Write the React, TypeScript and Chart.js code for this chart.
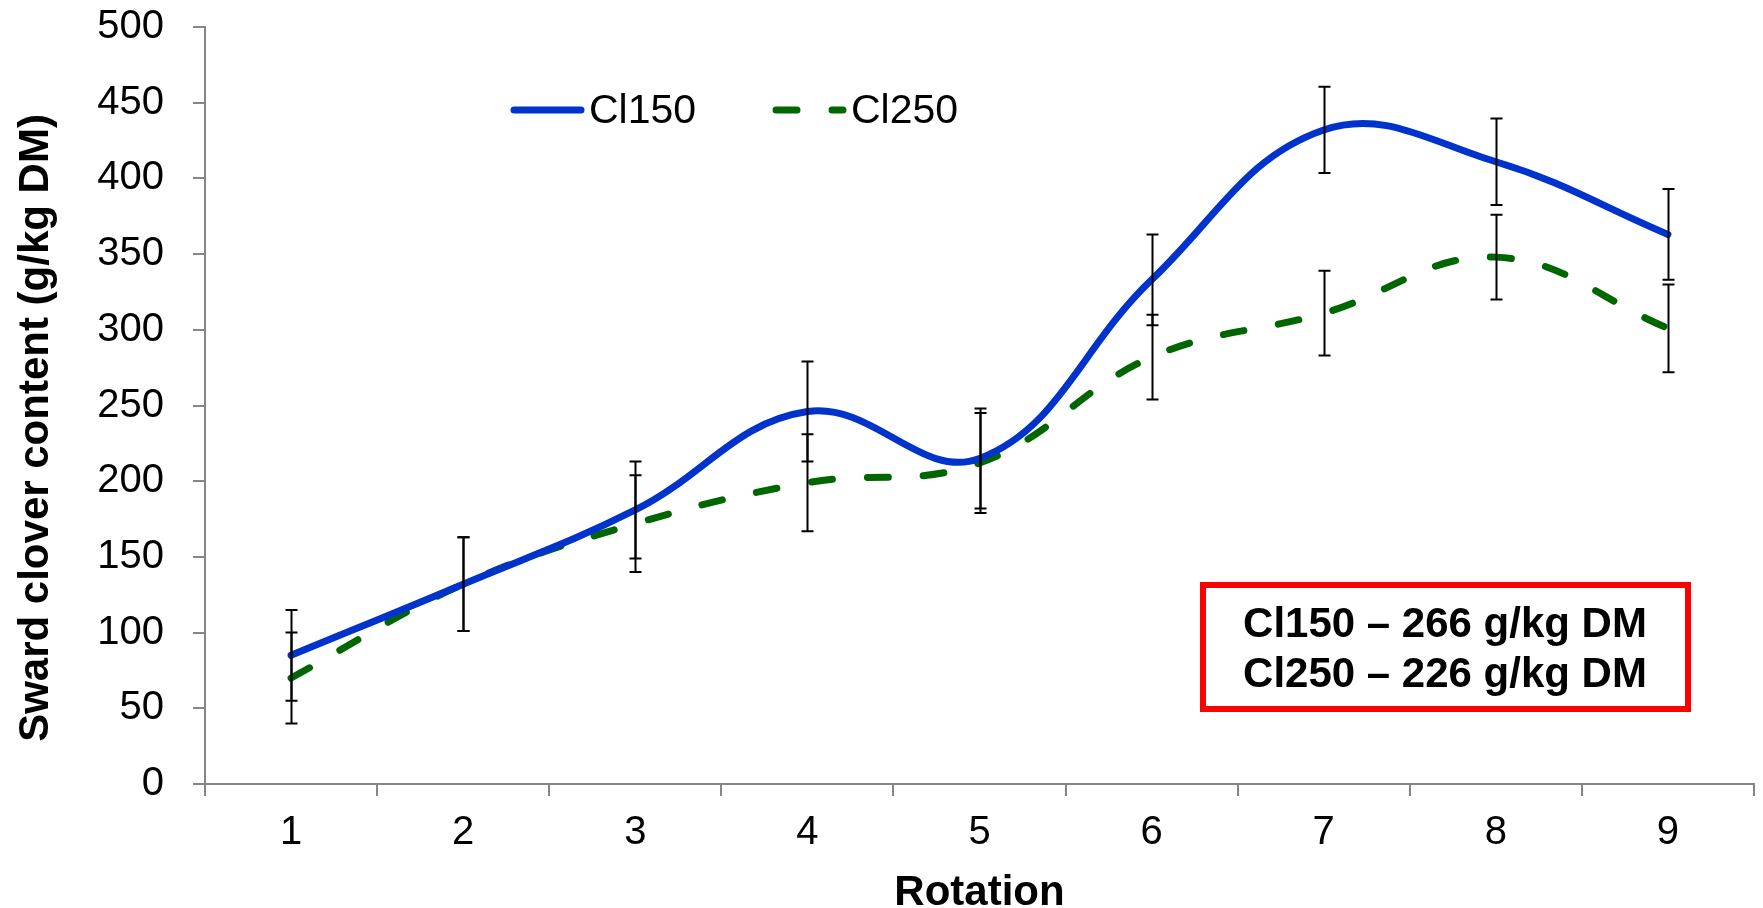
import React, { useEffect, useRef } from "react";
import { Chart, registerables } from "chart.js";

Chart.register(...registerables);

// ---- data ----
const rotations = ["1", "2", "3", "4", "5", "6", "7", "8", "9"];
const cl150 = [85, 132, 181, 246, 215, 333, 432, 411, 363];
const cl250 = [70, 132, 172, 199, 212, 282, 311, 348, 301];
const cl150Err = [30, 31, 32, 33, 33, 30, 28.5, 28.5, 30];
const cl250Err = [30, 31, 32, 32, 33, 28, 28, 28, 29];
const seriesNames = ["Cl150", "Cl250"];
const summaryLines = ["Cl150 – 266 g/kg DM", "Cl250 – 226 g/kg DM"];
const yTitle = "Sward clover content (g/kg DM)";
const xTitle = "Rotation";
const yMin = 0;
const yMax = 500;
const yStep = 50;

const FONT = "'Liberation Sans', Arial, Helvetica, sans-serif";
const BLUE = "#0033CC";
const GREEN = "#006600";
const AXIS = "#868686";
const DASH = [21, 35];

const errors = [cl150Err, cl250Err];

const errorBarPlugin = {
  id: "errorBars",
  afterDatasetsDraw(chart: any) {
    const ctx = chart.ctx;
    const yScale = chart.scales.y;
    ctx.save();
    ctx.strokeStyle = "#000";
    ctx.lineWidth = 2;
    chart.data.datasets.forEach((ds: any, i: number) => {
      const meta = chart.getDatasetMeta(i);
      meta.data.forEach((pt: any, j: number) => {
        const v = ds.data[j];
        const e = errors[i][j];
        const x = Math.round(pt.x) + 0.5;
        const yt = yScale.getPixelForValue(v + e);
        const yb = yScale.getPixelForValue(v - e);
        ctx.beginPath();
        ctx.moveTo(x, yt);
        ctx.lineTo(x, yb);
        ctx.moveTo(x - 6, yt);
        ctx.lineTo(x + 6, yt);
        ctx.moveTo(x - 6, yb);
        ctx.lineTo(x + 6, yb);
        ctx.stroke();
      });
    });
    ctx.restore();
  },
};

const decorPlugin = {
  id: "decor",
  afterDraw(chart: any) {
    const ctx = chart.ctx;
    const area = chart.chartArea;
    ctx.save();
    // legend
    ctx.lineCap = "round";
    ctx.lineWidth = 7;
    ctx.strokeStyle = BLUE;
    ctx.setLineDash([]);
    ctx.beginPath();
    ctx.moveTo(514, 110);
    ctx.lineTo(581, 110);
    ctx.stroke();
    ctx.strokeStyle = GREEN;
    ctx.setLineDash(DASH);
    ctx.beginPath();
    ctx.moveTo(776, 110);
    ctx.lineTo(843, 110);
    ctx.stroke();
    ctx.setLineDash([]);
    ctx.fillStyle = "#000";
    ctx.font = `41px ${FONT}`;
    ctx.textAlign = "left";
    ctx.textBaseline = "alphabetic";
    ctx.fillText(seriesNames[0], 589, 123);
    ctx.fillText(seriesNames[1], 851, 123);

    // summary box
    ctx.lineWidth = 6;
    ctx.strokeStyle = "#FF0000";
    ctx.lineCap = "butt";
    ctx.strokeRect(1203, 585, 485, 124);
    ctx.font = `bold 42px ${FONT}`;
    ctx.textAlign = "center";
    ctx.fillText(summaryLines[0], 1445, 637);
    ctx.fillText(summaryLines[1], 1445, 687);

    // axis titles
    const cx = (area.left + area.right) / 2;
    ctx.fillText(xTitle, cx, 905);
    ctx.save();
    ctx.translate(48, 428);
    ctx.rotate(-Math.PI / 2);
    ctx.fillText(yTitle, 0, 0);
    ctx.restore();
    ctx.restore();
  },
};

export default function App() {
  const ref = useRef<HTMLCanvasElement | null>(null);
  useEffect(() => {
    if (!ref.current) return;
    const chart = new Chart(ref.current, {
      type: "line",
      data: {
        labels: rotations,
        datasets: [
          {
            label: seriesNames[0],
            data: cl150,
            borderColor: BLUE,
            borderWidth: 7,
            tension: 0.4,
            pointRadius: 0,
            borderCapStyle: "round",
            borderJoinStyle: "round",
            fill: false,
          },
          {
            label: seriesNames[1],
            data: cl250,
            borderColor: GREEN,
            borderWidth: 7,
            tension: 0.4,
            pointRadius: 0,
            borderDash: DASH,
            borderCapStyle: "round",
            borderJoinStyle: "round",
            fill: false,
          },
        ],
      },
      options: {
        responsive: false,
        animation: false,
        devicePixelRatio: 1,
        layout: { padding: { top: 27, right: 9, left: 0, bottom: 0 } },
        plugins: {
          legend: { display: false },
          tooltip: { enabled: false },
          title: { display: false },
        },
        scales: {
          x: {
            type: "category",
            offset: true,
            grid: {
              offset: true,
              drawOnChartArea: false,
              drawTicks: true,
              tickLength: 12,
              color: AXIS,
              lineWidth: 2,
            },
            border: { color: AXIS, width: 2 },
            ticks: {
              color: "#000",
              font: { family: FONT, size: 40 },
              padding: 13,
              maxRotation: 0,
            },
            afterFit: (s: any) => {
              s.height = 124;
              s.paddingLeft = 0;
              s.paddingRight = 0;
            },
          },
          y: {
            min: yMin,
            max: yMax,
            grid: {
              drawOnChartArea: false,
              drawTicks: true,
              tickLength: 12,
              color: AXIS,
              lineWidth: 2,
            },
            border: { color: AXIS, width: 2 },
            ticks: {
              stepSize: yStep,
              color: "#000",
              font: { family: FONT, size: 40 },
              padding: 29,
            },
            afterFit: (s: any) => {
              s.width = 205;
              s.paddingTop = 0;
              s.paddingBottom = 0;
            },
          },
        },
      },
      plugins: [errorBarPlugin, decorPlugin],
    });
    return () => chart.destroy();
  }, []);
  return (
    <div
      style={{
        position: "fixed",
        left: 0,
        top: 0,
        width: 1763,
        height: 908,
        background: "#fff",
      }}
    >
      <canvas ref={ref} width={1763} height={908} style={{ display: "block" }} />
    </div>
  );
}
